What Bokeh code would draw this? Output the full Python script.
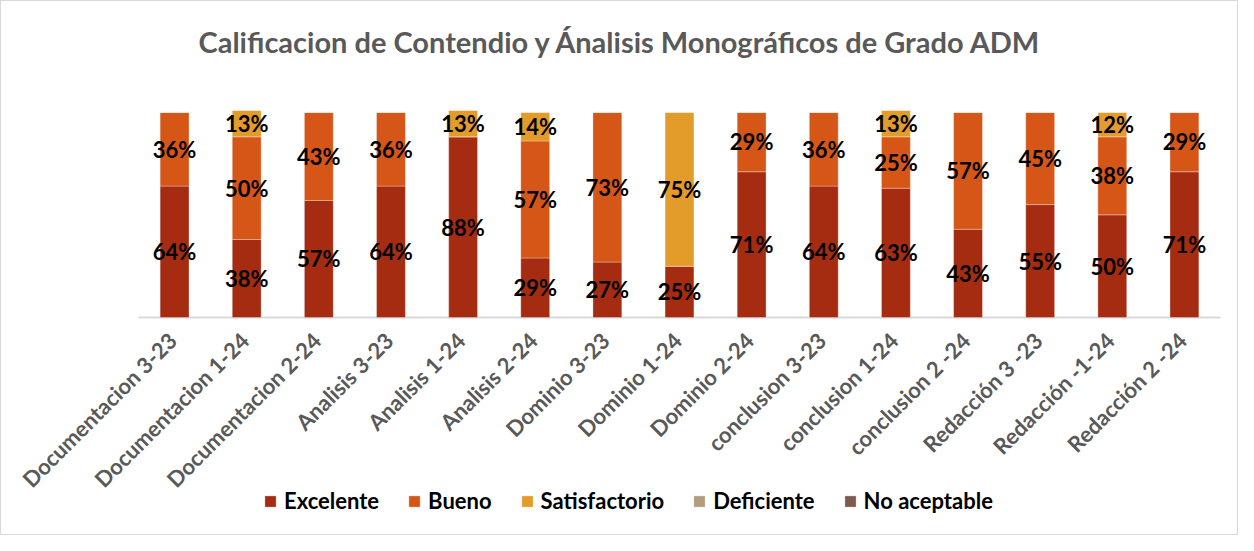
import numpy as np
from bokeh.plotting import figure
from bokeh.models import ColumnDataSource, Range1d, Legend, LegendItem
from bokeh.core.properties import value
from bokeh.embed import file_html
from bokeh.resources import INLINE

categories = ["Documentacion 3-23", "Documentacion 1-24", "Documentacion 2-24",
              "Analisis 3-23", "Analisis 1-24", "Analisis 2-24",
              "Dominio 3-23", "Dominio 1-24", "Dominio 2-24",
              "conclusion 3-23", "conclusion 1-24", "conclusion 2 -24",
              "Redacción 3 -23", "Redacción -1-24", "Redacción 2 -24"]
excelente = [64, 38, 57, 64, 88, 29, 27, 25, 71, 64, 63, 43, 55, 50, 71]
bueno = [36, 50, 43, 36, 0, 57, 73, 0, 29, 36, 25, 57, 45, 38, 29]
satisfactorio = [0, 13, 0, 0, 13, 14, 0, 75, 0, 0, 13, 0, 0, 12, 0]
deficiente = [0] * 15
no_aceptable = [0] * 15

series = ["Excelente", "Bueno", "Satisfactorio", "Deficiente", "No aceptable"]
colors = ["#A52C11", "#D65617", "#E39B29", "#B19C7C", "#7D5A4E"]
title_text = "Calificacion de Contendio y Ánalisis Monográficos de Grado ADM"

n = len(categories)
xs = np.arange(n) + 0.5          # category centres on a numeric scale
cat_px = 1082 / n                # pixel width of one category slot
px_per_pct = 2.053

data = {"x": xs, "cat": categories, "Excelente": excelente, "Bueno": bueno,
        "Satisfactorio": satisfactorio, "Deficiente": deficiente,
        "No aceptable": no_aceptable}
source = ColumnDataSource(data)

W, H, TOP = 1238, 535, 76
axis_y = 316
p = figure(x_range=Range1d(-137 / cat_px, n + 19 / cat_px),
           y_range=Range1d(-(H - axis_y) / px_per_pct, (axis_y - TOP) / px_per_pct),
           width=W, height=H, output_backend="svg", toolbar_location=None,
           x_axis_location=None, y_axis_location=None,
           min_border_left=0, min_border_right=0, min_border_top=TOP,
           min_border_bottom=0)
p.styles = {"border": "1px solid #d9d9d9", "box-sizing": "border-box"}
p.xgrid.grid_line_color = None
p.ygrid.grid_line_color = None
p.outline_line_color = None

# category axis line
p.line(x=[0, n], y=[0, 0], line_color="#d9d9d9", line_width=2)

renderers = p.vbar_stack(series, x="x", width=0.4, color=colors, source=source,
                         line_color="white", line_width=0.6, line_alpha=0.5)

# category labels, rotated like the axis labels of the original
csrc = ColumnDataSource(dict(x=xs, y=np.zeros(n), t=categories))
p.text(x="x", y="y", text="t", source=csrc, angle=np.pi / 4,
       text_align="right", text_baseline="middle", x_offset=-2, y_offset=19,
       text_font=value("Lato"), text_font_style="bold", text_font_size="22px",
       text_color="#595959")

# data labels at segment centres
vals = np.array([excelente, bueno, satisfactorio, deficiente, no_aceptable], dtype=float)
tops = np.cumsum(vals, axis=0)
bottoms = tops - vals
lx, ly, lt = [], [], []
for s in range(vals.shape[0]):
    for i in range(n):
        if vals[s, i] > 0:
            lx.append(xs[i])
            ly.append((tops[s, i] + bottoms[s, i]) / 2)
            lt.append(f"{int(vals[s, i])}%")
lsrc = ColumnDataSource(dict(x=lx, y=ly, t=lt))
p.text(x="x", y="y", text="t", source=lsrc, text_align="center", text_baseline="middle",
       text_font=value("Lato"), text_font_style="bold", text_font_size="22px",
       text_color="black")

p.title.text = title_text
p.title.align = "left"
p.title.offset = 197
p.title.standoff = 38
p.title.text_font = "Lato"
p.title.text_font_style = "bold"
p.title.text_font_size = "29px"
p.title.text_color = "#595959"

legend = Legend(items=[LegendItem(label=s, renderers=[r]) for s, r in zip(series, renderers)],
                orientation="horizontal", location=(262, 22))
legend.label_text_font = "Lato"
legend.label_text_font_style = "bold"
legend.label_text_font_size = "22px"
legend.label_text_color = "black"
legend.label_height = 24
legend.glyph_width = 14
legend.glyph_height = 14
legend.label_standoff = 7
legend.spacing = 28
legend.border_line_color = None
legend.background_fill_alpha = 0
legend.padding = 0
legend.margin = 0
p.add_layout(legend, "center")

open("out.html", "w").write(file_html(p, INLINE))
